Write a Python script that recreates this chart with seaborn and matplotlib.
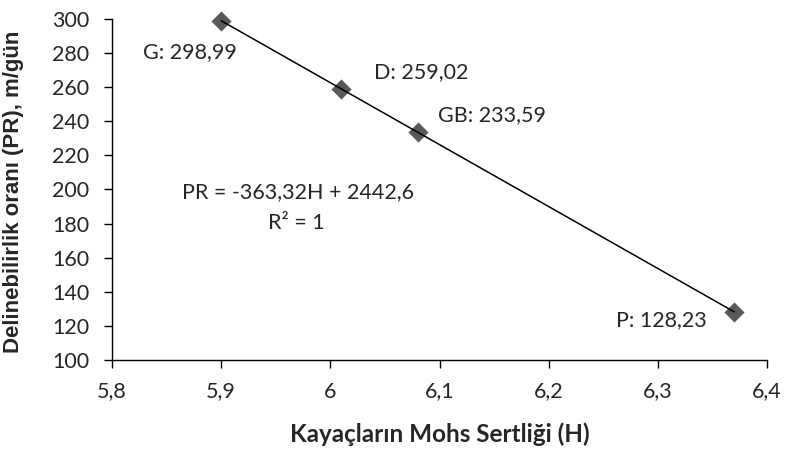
import matplotlib
matplotlib.use("Agg")
import matplotlib.pyplot as plt
import seaborn as sns
import pandas as pd
import numpy as np

# Data
labels = ["G", "D", "GB", "P"]
hardness = [5.90, 6.01, 6.08, 6.37]
pr = [298.99, 259.02, 233.59, 128.23]
xticks = [5.8, 5.9, 6.0, 6.1, 6.2, 6.3, 6.4]
xtick_labels = ["5,8", "5,9", "6", "6,1", "6,2", "6,3", "6,4"]
yticks = [100, 120, 140, 160, 180, 200, 220, 240, 260, 280, 300]
equation = "PR = -363,32H + 2442,6"
r2_text = "R² = 1"

df = pd.DataFrame({"H": hardness, "PR": pr, "label": labels})

sns.set_theme(style="white")
plt.rcParams["font.family"] = ["Lato", "DejaVu Sans"]

fig = plt.figure(figsize=(7.87, 4.5), dpi=100)
ax = fig.add_axes([0.1423, 0.2, 0.8323, 0.7578])

sns.scatterplot(data=df, x="H", y="PR", marker="D", s=105, color="#595959",
                edgecolor="#595959", linewidth=0, ax=ax, zorder=2, clip_on=False)
sns.regplot(data=df, x="H", y="PR", scatter=False, ci=None, truncate=True,
            line_kws={"color": "black", "lw": 1.1, "zorder": 3}, ax=ax)

ax.set_xlim(5.8, 6.4)
ax.set_ylim(100, 300)
ax.set_xticks(xticks)
ax.set_xticklabels(xtick_labels)
ax.set_yticks(yticks)
ax.tick_params(axis="both", labelsize=15.5, length=5.5, width=1, color="black",
               direction="out", bottom=True, left=True)
ax.tick_params(axis="x", pad=10)
ax.tick_params(axis="y", pad=11)
for side in ["top", "right"]:
    ax.spines[side].set_visible(False)
for side in ["left", "bottom"]:
    ax.spines[side].set_color("black")
    ax.spines[side].set_linewidth(1)

ax.set_xlabel("Kayaçların Mohs Sertliği (H)", fontsize=17.5, fontweight="bold",
              va="center")
ax.xaxis.set_label_coords(0.5, -0.218)
ax.set_ylabel("Delinebilirlik oranı (PR), m/gün", fontsize=16, fontweight="bold",
              family=["Liberation Sans", "DejaVu Sans"])
ax.yaxis.set_label_coords(-0.1346, 0.493)

# Point labels
label_pos = {"G": (5.871, 280.6), "D": (6.0835, 268.9), "GB": (6.148, 243.7),
             "P": (6.303, 123.5)}
for lab, v in zip(labels, pr):
    x, y = label_pos[lab]
    ax.text(x, y, f"{lab}: {v:.2f}".replace(".", ","), fontsize=15.5,
            ha="center", va="center")

ax.text(5.970, 198.5, equation, fontsize=15.5, ha="center", va="center")
ax.text(5.969, 180.4, r2_text, fontsize=15.5, ha="center", va="center")

fig.savefig("out.png", dpi=100)
